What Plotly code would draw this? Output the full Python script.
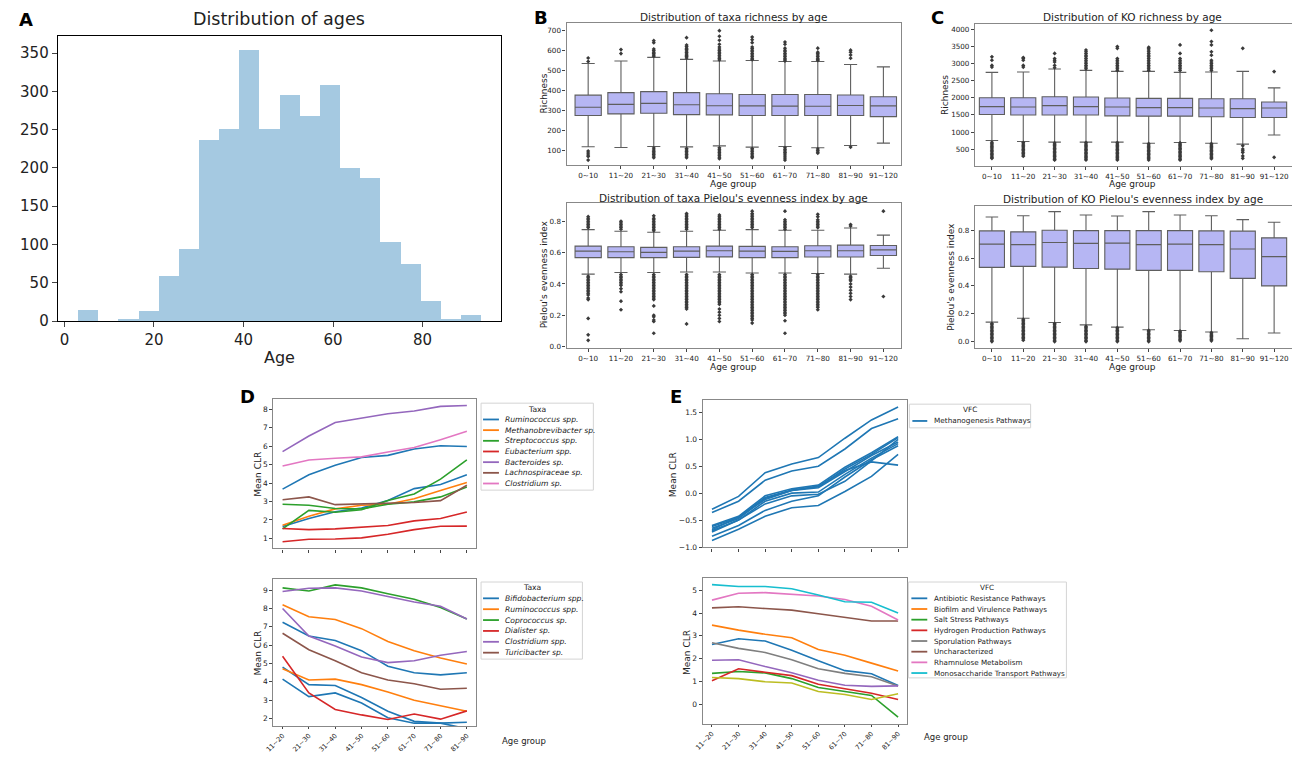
import plotly.graph_objects as go

W, H = 1292, 760
FONT = "DejaVu Sans"
TAB = ['#1f77b4', '#ff7f0e', '#2ca02c', '#d62728', '#9467bd', '#8c564b', '#e377c2', '#7f7f7f', '#bcbd22', '#17becf']

# ---------------- Panel A data ----------------
age_bin_edges = [3, 7.5, 12, 16.5, 21, 25.5, 30, 34.5, 39, 43.5, 48, 52.5, 57, 61.5, 66, 70.5, 75, 79.5, 84, 88.5, 93]
age_counts = [15, 0, 3, 14, 60, 95, 237, 252, 355, 252, 296, 268, 309, 200, 188, 104, 75, 27, 3, 8]

# ---------------- Panels B / C data ----------------
age_groups = ["0~10", "11~20", "21~30", "31~40", "41~50", "51~60", "61~70", "71~80", "81~90", "91~120"]

taxa_rich_q1 = [274, 282, 285, 278, 277, 274, 274, 274, 274, 268]
taxa_rich_med = [315, 330, 335, 328, 323, 322, 321, 320, 324, 322]
taxa_rich_q3 = [376, 389, 394, 389, 383, 379, 379, 379, 377, 368]
taxa_rich_lo = [117, 113, 118, 116, 121, 115, 118, 112, 123, 135]
taxa_rich_hi = [535, 548, 566, 556, 548, 550, 545, 545, 530, 518]
taxa_rich_out = [
    [563, 545, 95, 85, 75, 68, 50],
    [605, 585],
    [650, 640, 608, 600, 592, 585, 578, 572, 110, 100, 92, 85, 78, 70, 62],
    [665, 628, 620, 612, 605, 598, 590, 583, 576, 570, 563, 108, 100, 93, 86, 78, 70, 62],
    [700, 672, 652, 632, 618, 608, 600, 592, 584, 576, 568, 560, 553, 112, 104, 96, 88, 80, 72, 64, 57],
    [668, 655, 640, 618, 610, 602, 594, 586, 578, 570, 562, 555, 108, 100, 92, 84, 76, 68, 62],
    [643, 632, 612, 602, 594, 586, 578, 570, 562, 554, 548, 112, 104, 96, 88, 80, 70, 60, 50],
    [612, 592, 585, 578, 570, 562, 555, 550, 106, 98, 90, 85],
    [602, 592, 578, 562, 115],
    [],
]

taxa_even_q1 = [0.568, 0.568, 0.568, 0.570, 0.573, 0.568, 0.568, 0.572, 0.572, 0.582]
taxa_even_med = [0.610, 0.606, 0.602, 0.610, 0.612, 0.610, 0.608, 0.612, 0.612, 0.618]
taxa_even_q3 = [0.642, 0.638, 0.634, 0.638, 0.642, 0.640, 0.638, 0.644, 0.648, 0.646]
taxa_even_lo = [0.463, 0.473, 0.473, 0.476, 0.476, 0.470, 0.470, 0.467, 0.463, 0.500]
taxa_even_hi = [0.747, 0.737, 0.730, 0.737, 0.743, 0.747, 0.743, 0.743, 0.758, 0.712]
taxa_even_out = [
    [0.83, 0.82, 0.81, 0.80, 0.79, 0.78, 0.77, 0.76, 0.45, 0.44, 0.43, 0.42, 0.41, 0.40, 0.39, 0.38, 0.37, 0.36, 0.35, 0.34, 0.33, 0.31, 0.30, 0.18, 0.075, 0.04],
    [0.80, 0.79, 0.78, 0.77, 0.76, 0.75, 0.46, 0.45, 0.44, 0.43, 0.42, 0.41, 0.40, 0.39, 0.37, 0.35, 0.29, 0.235],
    [0.835, 0.82, 0.81, 0.80, 0.79, 0.78, 0.77, 0.76, 0.75, 0.74, 0.46, 0.45, 0.44, 0.43, 0.42, 0.41, 0.40, 0.39, 0.38, 0.37, 0.36, 0.35, 0.34, 0.33, 0.32, 0.31, 0.30, 0.26, 0.20, 0.19, 0.17, 0.16, 0.085],
    [0.85, 0.84, 0.83, 0.82, 0.81, 0.80, 0.79, 0.78, 0.77, 0.76, 0.75, 0.46, 0.45, 0.44, 0.43, 0.42, 0.41, 0.40, 0.39, 0.38, 0.37, 0.36, 0.35, 0.34, 0.33, 0.32, 0.31, 0.30, 0.29, 0.28, 0.27, 0.26, 0.25, 0.24, 0.145],
    [0.84, 0.83, 0.82, 0.81, 0.80, 0.79, 0.78, 0.77, 0.76, 0.75, 0.46, 0.45, 0.44, 0.43, 0.42, 0.41, 0.40, 0.39, 0.38, 0.37, 0.36, 0.35, 0.34, 0.33, 0.32, 0.31, 0.30, 0.29, 0.28, 0.27, 0.24, 0.22, 0.20, 0.18, 0.16],
    [0.865, 0.85, 0.84, 0.83, 0.82, 0.81, 0.80, 0.79, 0.78, 0.77, 0.76, 0.46, 0.45, 0.44, 0.43, 0.42, 0.41, 0.40, 0.39, 0.38, 0.37, 0.36, 0.35, 0.34, 0.33, 0.32, 0.31, 0.30, 0.29, 0.28, 0.27, 0.26, 0.25, 0.24, 0.23, 0.22, 0.21, 0.20, 0.19, 0.18, 0.17, 0.15],
    [0.865, 0.81, 0.80, 0.79, 0.78, 0.77, 0.76, 0.75, 0.46, 0.45, 0.44, 0.43, 0.42, 0.41, 0.40, 0.39, 0.38, 0.37, 0.36, 0.35, 0.34, 0.33, 0.32, 0.31, 0.30, 0.29, 0.28, 0.27, 0.26, 0.25, 0.24, 0.23, 0.22, 0.21, 0.20, 0.165, 0.085],
    [0.845, 0.83, 0.81, 0.80, 0.79, 0.78, 0.77, 0.76, 0.46, 0.45, 0.44, 0.43, 0.42, 0.41, 0.40, 0.39, 0.38, 0.37, 0.36, 0.35, 0.34, 0.33, 0.32, 0.31, 0.30, 0.29, 0.28, 0.27, 0.26, 0.25, 0.235],
    [0.78, 0.77, 0.45, 0.44, 0.43, 0.42, 0.40, 0.38, 0.36, 0.34, 0.32, 0.30],
    [0.865, 0.32],
]

ko_rich_q1 = [1512, 1500, 1500, 1500, 1474, 1464, 1464, 1445, 1426, 1426]
ko_rich_med = [1744, 1734, 1773, 1744, 1734, 1715, 1715, 1705, 1686, 1705]
ko_rich_q3 = [2004, 2004, 2033, 2023, 1994, 1985, 1985, 1975, 1975, 1879]
ko_rich_lo = [751, 722, 703, 703, 703, 673, 693, 673, 645, 915]
ko_rich_hi = [2747, 2756, 2843, 2804, 2776, 2776, 2747, 2756, 2776, 2293]
ko_rich_out = [
    [3200, 3100, 2950, 2900, 700, 660, 620, 580, 540, 500, 460, 420, 380, 340, 300, 260, 230],
    [3180, 3150, 3100, 2950, 2900, 690, 650, 610, 570, 530, 490, 450, 410, 370, 330, 290],
    [3300, 3150, 3100, 3050, 2950, 2880, 680, 640, 600, 560, 520, 480, 440, 400, 360, 320, 280, 240, 200, 180],
    [3400, 3350, 3300, 3250, 3200, 3150, 3100, 3050, 3000, 2950, 2900, 2850, 690, 650, 610, 570, 530, 490, 450, 410, 370, 330, 290, 250, 210, 180],
    [3500, 3450, 3150, 3100, 3050, 3000, 2950, 2900, 2850, 2800, 690, 650, 610, 570, 530, 490, 450, 410, 370, 330, 290, 250, 210, 180],
    [3480, 3450, 3400, 3350, 3300, 3250, 3200, 3150, 3100, 3050, 3000, 2950, 2900, 2850, 2800, 660, 620, 580, 540, 500, 460, 420, 380, 340, 300, 260, 220, 180],
    [3550, 3300, 3150, 3100, 3050, 3000, 2950, 2900, 2850, 2800, 680, 640, 600, 560, 520, 480, 440, 400, 360, 320, 280, 240, 200, 180],
    [3980, 3650, 3550, 3350, 3250, 3100, 3050, 3000, 2950, 2900, 2850, 2800, 660, 620, 580, 540, 500, 460, 420, 380, 340, 300, 260, 220],
    [3450, 600, 500, 450, 400, 300, 230],
    [2770, 260],
]

ko_even_q1 = [0.533, 0.540, 0.535, 0.525, 0.520, 0.511, 0.511, 0.502, 0.454, 0.400]
ko_even_med = [0.700, 0.696, 0.712, 0.705, 0.707, 0.696, 0.700, 0.696, 0.665, 0.610]
ko_even_q3 = [0.795, 0.788, 0.800, 0.797, 0.797, 0.797, 0.797, 0.795, 0.793, 0.745]
ko_even_lo = [0.140, 0.168, 0.137, 0.120, 0.104, 0.085, 0.080, 0.069, 0.020, 0.062]
ko_even_hi = [0.895, 0.904, 0.933, 0.909, 0.902, 0.933, 0.909, 0.904, 0.876, 0.857]
ko_even_out = [
    [0.13, 0.12, 0.11, 0.10, 0.09, 0.08, 0.07, 0.06, 0.05, 0.04, 0.03, 0.02, 0.01, 0.0],
    [0.16, 0.15, 0.14, 0.13, 0.12, 0.11, 0.10, 0.09, 0.08, 0.07, 0.06, 0.05, 0.04, 0.03, 0.02, 0.01],
    [0.13, 0.12, 0.11, 0.10, 0.09, 0.08, 0.07, 0.06, 0.05, 0.04, 0.03, 0.02, 0.01, 0.0],
    [0.11, 0.10, 0.09, 0.08, 0.07, 0.06, 0.05, 0.04, 0.03, 0.02, 0.01, 0.0],
    [0.10, 0.09, 0.08, 0.07, 0.06, 0.05, 0.04, 0.03, 0.02, 0.01, 0.0],
    [0.08, 0.07, 0.06, 0.05, 0.04, 0.03, 0.02, 0.01, 0.0],
    [0.075, 0.065, 0.055, 0.045, 0.035, 0.025, 0.015, 0.005],
    [0.065, 0.055, 0.045, 0.035, 0.025, 0.015, 0.005],
    [],
    [],
]

# ---------------- Panel D data ----------------
clr_groups = ["11~20", "21~30", "31~40", "41~50", "51~60", "61~70", "71~80", "81~90"]

d_top_taxa = ["Ruminococcus spp.", "Methanobrevibacter sp.", "Streptococcus spp.", "Eubacterium spp.",
              "Bacteroides sp.", "Lachnospiraceae sp.", "Clostridium sp."]
d_top_ruminococcus_a = [3.67, 4.45, 4.96, 5.38, 5.50, 5.84, 6.02, 5.98]
d_top_ruminococcus_b = [1.65, 2.08, 2.45, 2.65, 3.05, 3.70, 3.92, 4.45]
d_top_methanobrevibacter = [1.72, 2.20, 2.60, 2.80, 2.85, 3.15, 3.60, 4.03]
d_top_streptococcus_a = [2.85, 2.80, 2.62, 2.60, 2.85, 2.98, 3.25, 3.78]
d_top_streptococcus_b = [1.52, 2.52, 2.42, 2.55, 3.05, 3.41, 4.21, 5.25]
d_top_eubacterium_a = [1.54, 1.48, 1.52, 1.62, 1.70, 1.95, 2.08, 2.43]
d_top_eubacterium_b = [0.82, 0.96, 0.97, 1.03, 1.23, 1.48, 1.66, 1.67]
d_top_bacteroides = [5.70, 6.55, 7.28, 7.50, 7.75, 7.90, 8.15, 8.20]
d_top_lachnospiraceae = [3.10, 3.25, 2.83, 2.87, 2.90, 2.95, 3.05, 3.88]
d_top_clostridium = [4.92, 5.25, 5.34, 5.42, 5.68, 5.93, 6.35, 6.80]

d_bot_taxa = ["Bifidobacterium spp.", "Ruminococcus spp.", "Coprococcus sp.", "Dialister sp.",
              "Clostridium spp.", "Turicibacter sp."]
d_bot_bifidobacterium_a = [7.25, 6.50, 6.25, 5.70, 4.85, 4.50, 4.38, 4.50]
d_bot_bifidobacterium_b = [4.80, 3.85, 3.80, 3.15, 2.40, 1.85, 1.75, 1.80]
d_bot_bifidobacterium_c = [4.15, 3.20, 3.40, 2.85, 2.05, 1.75, 1.75, 1.45]
d_bot_ruminococcus_a = [8.20, 7.55, 7.40, 6.90, 6.20, 5.70, 5.30, 4.97]
d_bot_ruminococcus_b = [4.72, 4.10, 4.15, 3.85, 3.45, 3.00, 2.70, 2.40]
d_bot_coprococcus = [9.12, 8.95, 9.28, 9.12, 8.80, 8.50, 8.05, 7.42]
d_bot_dialister = [5.40, 3.40, 2.50, 2.20, 1.95, 2.25, 1.97, 2.42]
d_bot_clostridium_a = [8.92, 9.10, 9.12, 8.95, 8.65, 8.35, 8.12, 7.42]
d_bot_clostridium_b = [8.00, 6.50, 5.95, 5.35, 5.05, 5.15, 5.45, 5.65]
d_bot_turicibacter = [6.65, 5.75, 5.15, 4.50, 4.10, 3.90, 3.60, 3.65]

# ---------------- Panel E data ----------------
e_top_name = "Methanogenesis Pathways"
e_top_methanogenesis = [
    [-0.30, -0.06, 0.38, 0.54, 0.66, 1.02, 1.36, 1.60],
    [-0.36, -0.15, 0.24, 0.41, 0.50, 0.82, 1.20, 1.38],
    [-0.60, -0.43, -0.05, 0.08, 0.15, 0.48, 0.75, 1.05],
    [-0.62, -0.45, -0.08, 0.06, 0.12, 0.45, 0.72, 1.03],
    [-0.65, -0.47, -0.10, 0.05, 0.10, 0.40, 0.70, 0.95],
    [-0.70, -0.50, -0.15, 0.00, 0.02, 0.35, 0.65, 0.92],
    [-0.68, -0.44, -0.12, 0.05, 0.13, 0.42, 0.58, 0.52],
    [-0.80, -0.60, -0.32, -0.15, -0.05, 0.30, 0.62, 0.88],
    [-0.88, -0.67, -0.43, -0.27, -0.23, 0.03, 0.31, 0.72],
    [-0.72, -0.50, -0.20, -0.05, -0.02, 0.22, 0.60, 1.00],
]

e_bot_names = ["Antibiotic Resistance Pathways", "Biofilm and Virulence Pathways", "Salt Stress Pathways",
               "Hydrogen Production Pathways", "Sporulation Pathways", "Uncharacterized",
               "Rhamnulose Metabolism", "Monosaccharide Transport Pathways"]
e_bot_antibiotic = [2.62, 2.87, 2.77, 2.37, 1.90, 1.47, 1.33, 0.82]
e_bot_biofilm = [3.47, 3.25, 3.07, 2.92, 2.40, 2.15, 1.80, 1.45]
e_bot_salt = [1.35, 1.43, 1.37, 1.12, 0.73, 0.57, 0.38, -0.57]
e_bot_hydrogen = [1.03, 1.55, 1.40, 1.25, 0.87, 0.67, 0.48, 0.20]
e_bot_sporulation = [2.70, 2.45, 2.27, 1.95, 1.55, 1.35, 1.20, 0.80]
e_bot_uncharacterized = [4.23, 4.28, 4.20, 4.13, 3.97, 3.82, 3.65, 3.65]
e_bot_rhamnulose = [4.57, 4.87, 4.90, 4.82, 4.75, 4.60, 4.30, 3.70]
e_bot_monosaccharide = [5.25, 5.17, 5.17, 5.07, 4.80, 4.50, 4.48, 4.00]
e_bot_extra_purple = [1.93, 1.95, 1.65, 1.38, 1.05, 0.83, 0.78, 0.80]
e_bot_extra_olive = [1.17, 1.12, 0.98, 0.93, 0.55, 0.42, 0.20, 0.45]


# ---------------- helpers ----------------
def dom_x(x0, x1):
    return [max(0.0, x0 / W), min(1.0, x1 / W)]


def dom_y(y0, y1):
    return [1 - y1 / H, 1 - y0 / H]


fig = go.Figure()
annotations = []
shapes = []


def ann(text, x, y, size, angle=0, bold=False, color="#222222", xanchor="center"):
    annotations.append(dict(text=("<b>%s</b>" % text) if bold else text, x=x / W, y=1 - y / H,
                            xref="paper", yref="paper", showarrow=False, textangle=angle,
                            xanchor=xanchor, yanchor="middle",
                            font=dict(family=FONT, size=size, color=color)))


# ---------------- Panel A ----------------
centers = [(age_bin_edges[i] + age_bin_edges[i + 1]) / 2 for i in range(len(age_counts))]
widths = [age_bin_edges[i + 1] - age_bin_edges[i] for i in range(len(age_counts))]
fig.add_trace(go.Bar(x=centers, y=age_counts, width=widths, marker=dict(color="#a5c9e1", line=dict(width=0)),
                     showlegend=False, xaxis="x", yaxis="y"))

# ---------------- Box panels ----------------
BOX_FILL = "#b6b6f3"
BOX_LINE = "#5e5e5e"


def add_box(ax, q1, med, q3, lo, hi, outs):
    xs = list(range(len(q1)))
    fig.add_trace(go.Box(x=xs, q1=q1, median=med, q3=q3, lowerfence=lo, upperfence=hi,
                         width=0.8, whiskerwidth=0.5, fillcolor=BOX_FILL,
                         line=dict(color=BOX_LINE, width=1.1), boxpoints=False,
                         showlegend=False, xaxis="x" + ax, yaxis="y" + ax, hoverinfo="skip"))
    ox = [i for i, g in enumerate(outs) for _ in g]
    oy = [v for g in outs for v in g]
    fig.add_trace(go.Scatter(x=ox, y=oy, mode="markers",
                             marker=dict(symbol="diamond", size=3.2, color="#3a3a3a"),
                             showlegend=False, xaxis="x" + ax, yaxis="y" + ax, hoverinfo="skip"))


add_box("2", taxa_rich_q1, taxa_rich_med, taxa_rich_q3, taxa_rich_lo, taxa_rich_hi, taxa_rich_out)
add_box("3", taxa_even_q1, taxa_even_med, taxa_even_q3, taxa_even_lo, taxa_even_hi, taxa_even_out)
add_box("4", ko_rich_q1, ko_rich_med, ko_rich_q3, ko_rich_lo, ko_rich_hi, ko_rich_out)
add_box("5", ko_even_q1, ko_even_med, ko_even_q3, ko_even_lo, ko_even_hi, ko_even_out)

# ---------------- Line panels ----------------
xs8 = list(range(len(clr_groups)))


def add_line(ax, y, color):
    fig.add_trace(go.Scatter(x=xs8, y=y, mode="lines", line=dict(color=color, width=1.6),
                             showlegend=False, xaxis="x" + ax, yaxis="y" + ax, hoverinfo="skip"))


d_top_series = [
    (d_top_ruminococcus_a, 0), (d_top_ruminococcus_b, 0), (d_top_methanobrevibacter, 1),
    (d_top_streptococcus_a, 2), (d_top_streptococcus_b, 2), (d_top_eubacterium_a, 3),
    (d_top_eubacterium_b, 3), (d_top_bacteroides, 4), (d_top_lachnospiraceae, 5), (d_top_clostridium, 6),
]
for y, k in d_top_series:
    add_line("6", y, TAB[k])

d_bot_series = [
    (d_bot_bifidobacterium_a, 0), (d_bot_bifidobacterium_b, 0), (d_bot_bifidobacterium_c, 0),
    (d_bot_ruminococcus_a, 1), (d_bot_ruminococcus_b, 1), (d_bot_coprococcus, 2),
    (d_bot_dialister, 3), (d_bot_clostridium_a, 4), (d_bot_clostridium_b, 4), (d_bot_turicibacter, 5),
]
for y, k in d_bot_series:
    add_line("7", y, TAB[k])

for y in e_top_methanogenesis:
    add_line("8", y, TAB[0])

e_bot_series = [e_bot_antibiotic, e_bot_biofilm, e_bot_salt, e_bot_hydrogen, e_bot_sporulation,
                e_bot_uncharacterized, e_bot_rhamnulose, e_bot_monosaccharide]
e_bot_colors = [TAB[0], TAB[1], TAB[2], TAB[3], TAB[7], TAB[5], TAB[6], TAB[9]]
for y, c in zip(e_bot_series, e_bot_colors):
    add_line("9", y, c)
add_line("9", e_bot_extra_purple, TAB[4])
add_line("9", e_bot_extra_olive, TAB[8])


# ---------------- Legends (drawn as boxes, handles and text) ----------------
def px(x):
    return x / W


def py(y):
    return 1 - y / H


def draw_legend(x0, y0, x1, y1, title, title_y, names, colors, first_y, row_h, h0, h1, tx, size, italic):
    shapes.append(dict(type="rect", xref="paper", yref="paper", x0=px(x0), x1=px(x1), y0=py(y1), y1=py(y0),
                       line=dict(color="#d4d4d4", width=1), fillcolor="rgba(255,255,255,0.85)", layer="above"))
    ann(title, (x0 + x1) / 2, title_y, size)
    for i, (n, c) in enumerate(zip(names, colors)):
        yy = first_y + i * row_h
        shapes.append(dict(type="line", xref="paper", yref="paper", x0=px(h0), x1=px(h1), y0=py(yy), y1=py(yy),
                           line=dict(color=c, width=1.8), layer="above"))
        ann(("<i>%s</i>" % n) if italic else n, tx, yy, size, xanchor="left")


draw_legend(476, 408, 589, 496, "Taxa", 414, d_top_taxa, TAB[:7], 424.5, 10.8, 478, 494, 498, 7.6, True)
draw_legend(476, 589, 578, 667, "Taxa", 595, d_bot_taxa, TAB[:6], 605.5, 11.0, 478, 494, 498, 7.6, True)
draw_legend(907, 409, 1029, 433, "VFC", 414.5, [e_top_name], [TAB[0]], 426, 10.8, 910, 925, 930, 7.3, False)
draw_legend(906, 589, 1065, 686, "VFC", 595, e_bot_names, e_bot_colors, 605.5, 10.8, 909, 925, 930, 7.2, False)


# ---------------- Layout ----------------
def axis(dom, rng, color="#888888", lw=1.2, size=7.5, tickvals=None, ticktext=None,
         showlabels=True, anchor=None, mirror=True, angle=None, ticklen=3):
    d = dict(domain=dom, range=rng, showline=True, linecolor=color, linewidth=lw, mirror=mirror,
             ticks="outside", ticklen=ticklen, tickwidth=0.8, tickcolor="#444444", showgrid=False,
             zeroline=False, showticklabels=showlabels, fixedrange=True,
             tickfont=dict(family=FONT, size=size, color="#222222"))
    if tickvals is not None:
        d["tickmode"] = "array"
        d["tickvals"] = tickvals
        if ticktext is not None:
            d["ticktext"] = ticktext
    if anchor:
        d["anchor"] = anchor
    if angle is not None:
        d["tickangle"] = angle
    return d


gx10 = list(range(10))
BC = 7.2  # tick font for box panels
layout = dict(
    width=W, height=H, margin=dict(l=0, r=0, t=0, b=0), paper_bgcolor="white", plot_bgcolor="white",
    font=dict(family=FONT), bargap=0, boxgap=0, showlegend=False,
    xaxis=axis(dom_x(50, 496), [-1.5, 97.5], color="#000000", lw=1, size=15,
               tickvals=[0, 20, 40, 60, 80], anchor="y", ticklen=5),
    yaxis=axis(dom_y(36, 325), [0, 372.75], color="#000000", lw=1, size=15,
               tickvals=[0, 50, 100, 150, 200, 250, 300, 350], anchor="x", ticklen=5),
    xaxis2=axis(dom_x(562, 899), [-0.66, 9.55], size=BC, tickvals=gx10, ticktext=age_groups, anchor="y2"),
    yaxis2=axis(dom_y(23, 167), [25, 740], size=BC, tickvals=[100, 200, 300, 400, 500, 600, 700], anchor="x2"),
    xaxis3=axis(dom_x(562, 899), [-0.66, 9.55], size=BC, tickvals=gx10, ticktext=age_groups, anchor="y3"),
    yaxis3=axis(dom_y(205, 352), [-0.008, 0.92], size=BC, tickvals=[0.0, 0.2, 0.4, 0.6, 0.8],
                ticktext=["0.0", "0.2", "0.4", "0.6", "0.8"], anchor="x3"),
    xaxis4=axis(dom_x(973, 1292), [-0.54, 9.57], size=BC, tickvals=gx10, ticktext=age_groups, anchor="y4"),
    yaxis4=axis(dom_y(24, 168), [5, 4170], size=BC, tickvals=[500, 1000, 1500, 2000, 2500, 3000, 3500, 4000],
                anchor="x4", mirror=False),
    xaxis5=axis(dom_x(973, 1292), [-0.54, 9.57], size=BC, tickvals=gx10, ticktext=age_groups, anchor="y5"),
    yaxis5=axis(dom_y(208, 352), [-0.045, 0.977], size=BC, tickvals=[0.0, 0.2, 0.4, 0.6, 0.8],
                ticktext=["0.0", "0.2", "0.4", "0.6", "0.8"], anchor="x5", mirror=False),
    xaxis6=axis(dom_x(267, 471), [-0.35, 7.35], tickvals=xs8, showlabels=False, anchor="y6"),
    yaxis6=axis(dom_y(404, 555), [0.46, 8.54], tickvals=[1, 2, 3, 4, 5, 6, 7, 8], anchor="x6"),
    xaxis7=axis(dom_x(267, 471), [-0.35, 7.35], size=6.6, tickvals=xs8, ticktext=clr_groups, angle=-45,
                anchor="y7", ticklen=2),
    yaxis7=axis(dom_y(586, 735), [1.58, 9.6], tickvals=[2, 3, 4, 5, 6, 7, 8, 9], anchor="x7"),
    xaxis8=axis(dom_x(699, 905), [-0.35, 7.35], tickvals=xs8, showlabels=False, anchor="y8"),
    yaxis8=axis(dom_y(405, 554), [-1.008, 1.726], tickvals=[-1.0, -0.5, 0.0, 0.5, 1.0, 1.5],
                ticktext=["\u22121.0", "\u22120.5", "0.0", "0.5", "1.0", "1.5"], anchor="x8"),
    xaxis9=axis(dom_x(699, 905), [-0.35, 7.35], size=6.6, tickvals=xs8, ticktext=clr_groups, angle=-45,
                anchor="y9", ticklen=2),
    yaxis9=axis(dom_y(585, 733), [-0.89, 5.54], tickvals=[0, 1, 2, 3, 4, 5], anchor="x9"),
)

# Titles and labels
ann("Distribution of ages", 273, 19, 17.5)
ann("Age", 273, 362, 16)
ann("Distribution of taxa richness by age", 730, 17, 10.5)
ann("Distribution of taxa Pielou's evenness index by age", 730, 200, 10.5)
ann("Distribution of KO richness by age", 1132, 17, 10.5)
ann("Distribution of KO Pielou's evenness index by age", 1132, 201, 10.5)
ann("Richness", 539, 95, 9, angle=-90)
ann("Pielou's evenness index", 539, 278, 9, angle=-90)
ann("Richness", 943, 96, 9, angle=-90)
ann("Pielou's evenness index", 949, 280, 9, angle=-90)
for xc in (730, 1132):
    ann("Age group", xc, 186, 9)
    ann("Age group", xc, 371, 9)
ann("Mean CLR", 252, 480, 9, angle=-90)
ann("Mean CLR", 252, 661, 9, angle=-90)
ann("Mean CLR", 669, 480, 9, angle=-90)
ann("Mean CLR", 683, 660, 9, angle=-90)
ann("Age group", 519, 750, 8.5)
ann("Age group", 944, 746, 8.5)

ann("A", 18, 20, 18, bold=True, color="#000000")
ann("B", 536, 18, 18, bold=True, color="#000000")
ann("C", 935, 18, 18, bold=True, color="#000000")
ann("D", 241, 401, 18, bold=True, color="#000000")
ann("E", 672, 401, 18, bold=True, color="#000000")

layout["annotations"] = annotations
layout["shapes"] = shapes
fig.update_layout(**layout)

PAGE_FIX = (
    "document.documentElement.style.margin='0';"
    "document.documentElement.style.overflow='hidden';"
    "document.body.style.margin='0';"
    "document.body.style.overflow='hidden';"
    "var gd=document.getElementById('{plot_id}');"
    "gd.style.overflow='hidden';"
)
fig.write_html("out.html", config={"displayModeBar": False}, post_script=PAGE_FIX)
